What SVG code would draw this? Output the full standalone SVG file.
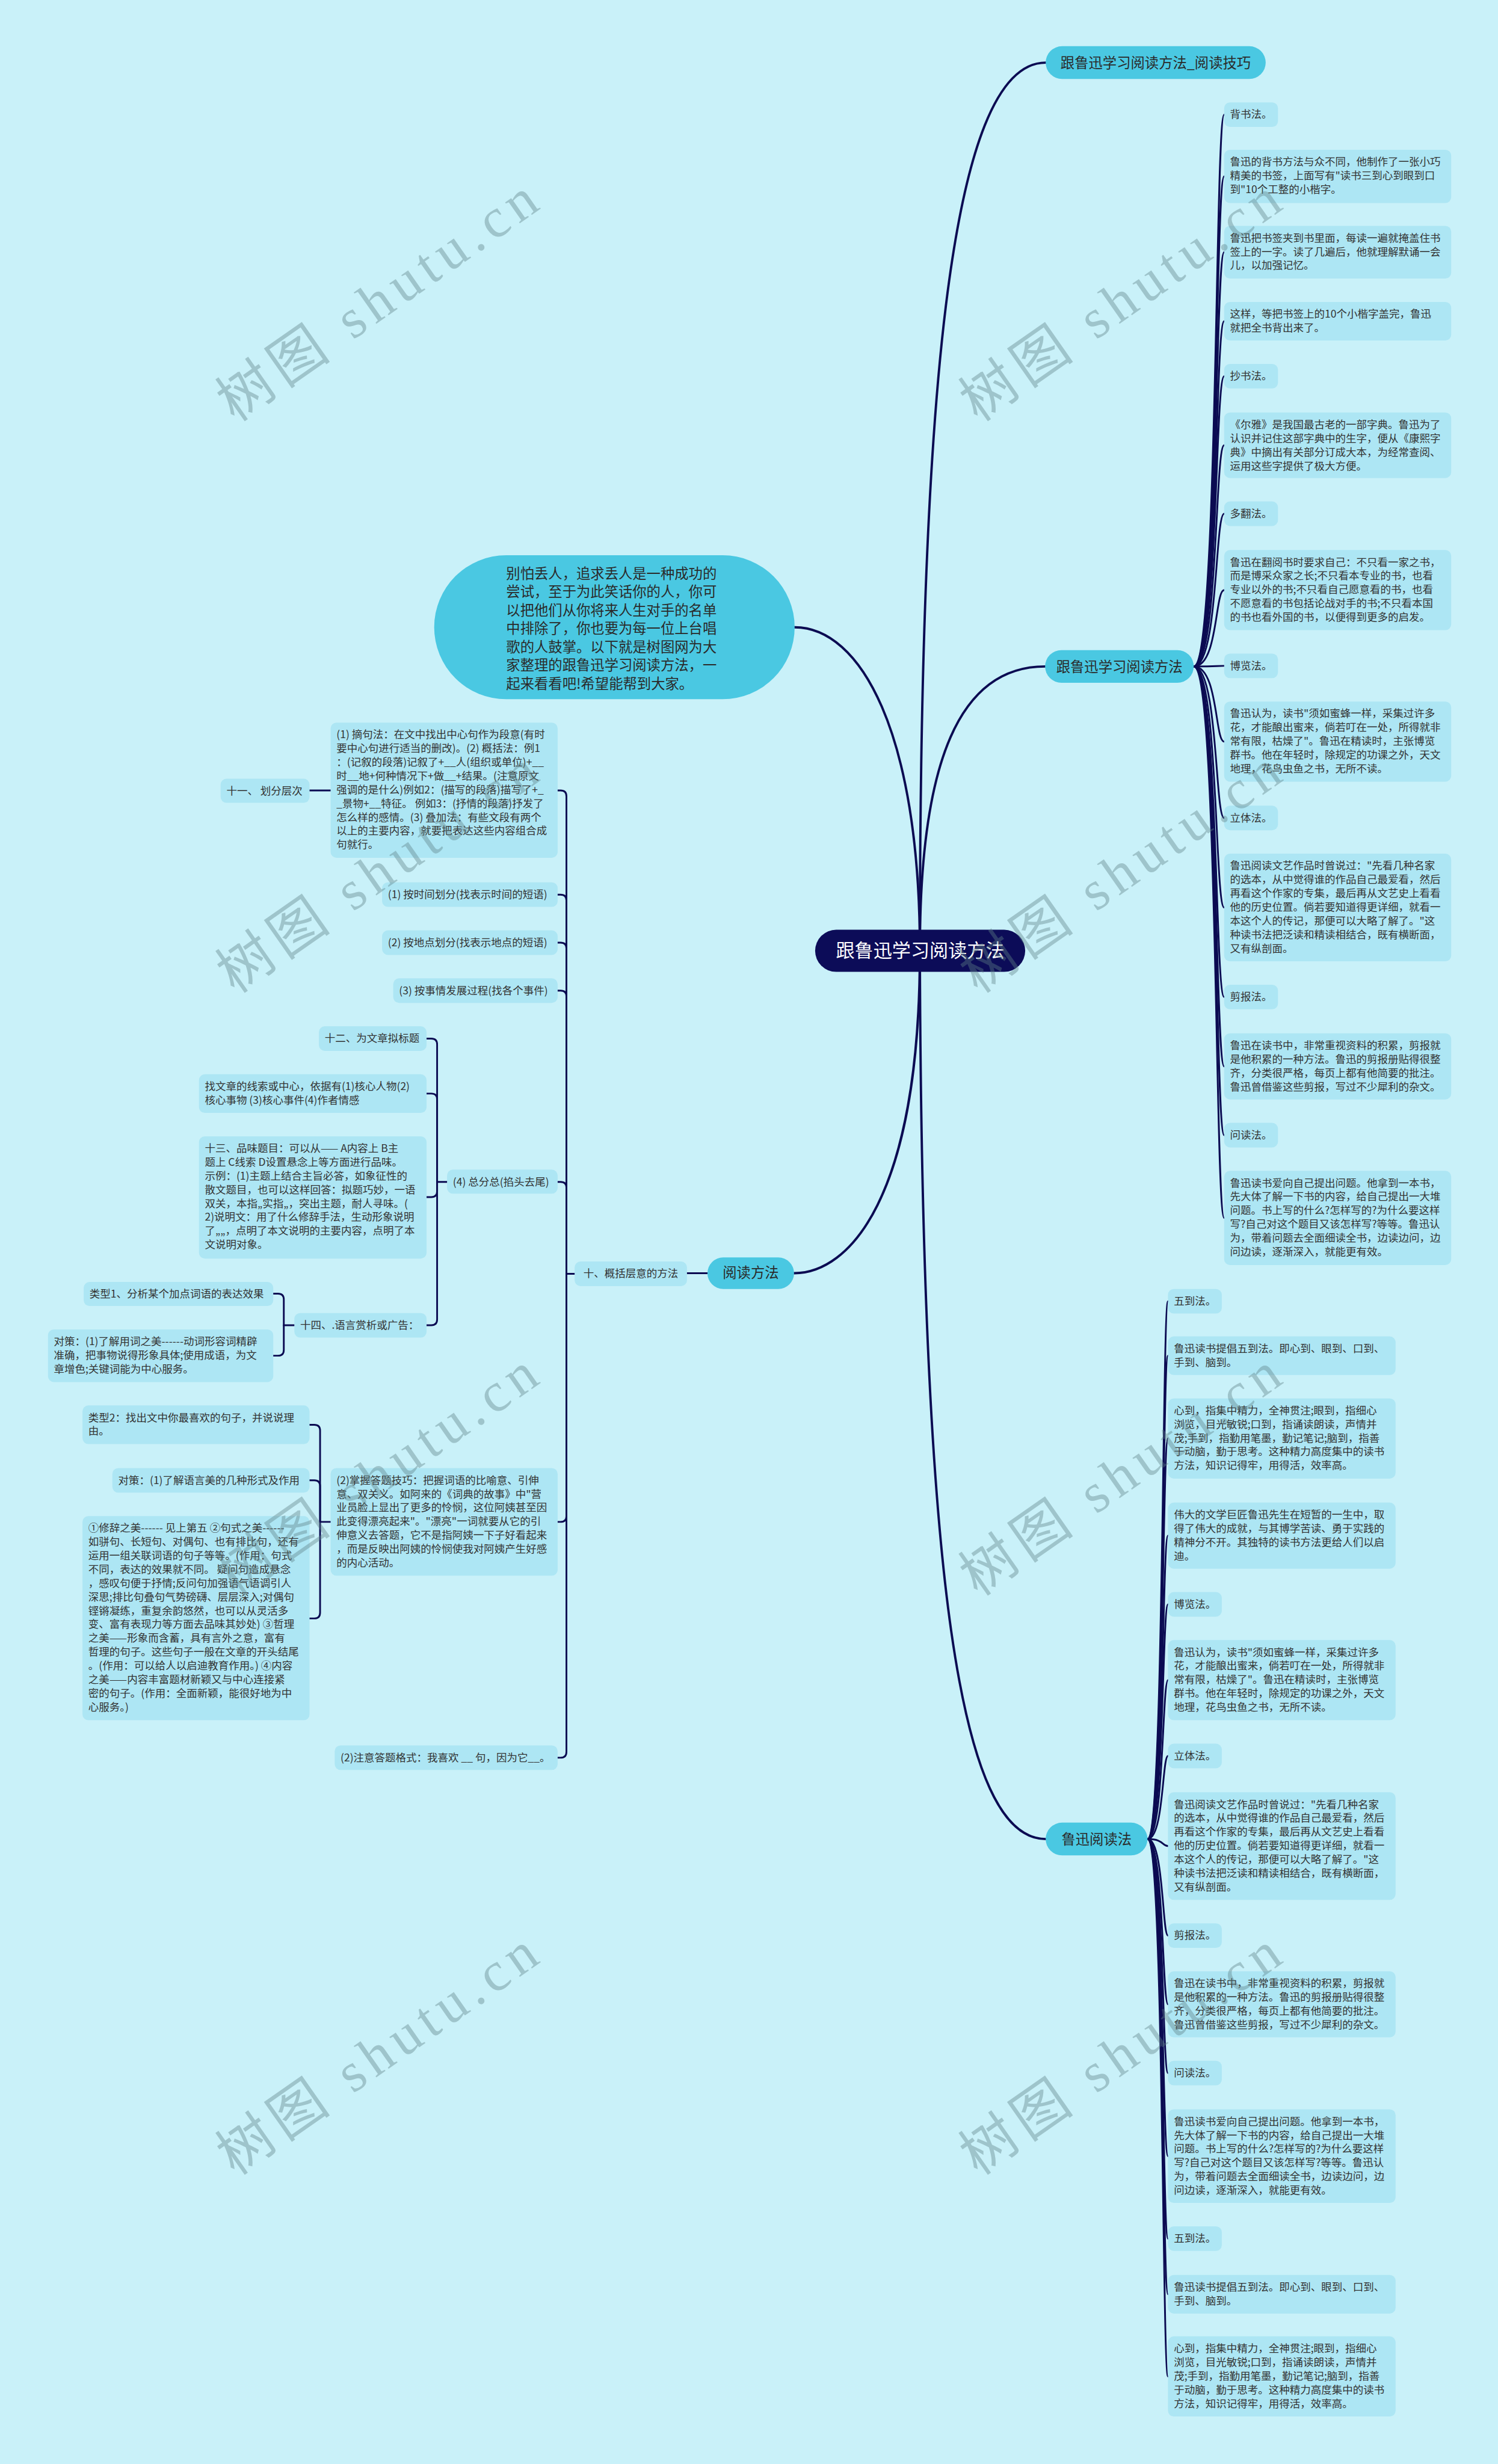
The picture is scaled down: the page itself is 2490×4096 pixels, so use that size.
<svg xmlns="http://www.w3.org/2000/svg" width="2490" height="4096" viewBox="0 0 2490 4096">
<style>
.box{fill:#ade6f4}
.l1{fill:#4ac8e2}
.t{font-family:"Noto Sans CJK SC","Noto Sans",sans-serif;font-size:18px;fill:#333333}
.lt{font-family:"Noto Sans CJK SC","Noto Sans",sans-serif;font-size:24px;fill:#2a2a2a}
.rt{font-family:"Noto Sans CJK SC","Noto Sans",sans-serif;font-size:32px;fill:#ffffff}
.ln{fill:none;stroke:#0b0b52;stroke-width:3;stroke-linecap:round}
.lm{fill:none;stroke:#0b0b52;stroke-width:4;stroke-linecap:round}
.wm{font-family:"Liberation Serif","Noto Sans CJK SC",serif;font-size:95px;fill:#5f8287;opacity:0.4}
</style>
<rect x="0" y="0" width="2490" height="4096" fill="#c9f1f9"/>
<g transform="scale(0.97266)">
<g id="connectors">
<path class="lm" d="M1572 1625 C1572 700 1620 107 1787 107"/>
<path class="lm" d="M1572 1625 C1572 1300 1640 1139 1786 1139"/>
<path class="lm" d="M1572 1625 C1572 1250 1470 1072 1358 1072"/>
<path class="lm" d="M1572 1625 C1572 2050 1450 2176 1357 2176"/>
<path class="lm" d="M1572 1625 C1575 2700 1640 3143 1787 3143"/>
<path class="ln" d="M2040 1139 C2082 1139 2076 196 2092 196"/>
<path class="ln" d="M2040 1139 C2082 1139 2076 301.5 2092 301.5"/>
<path class="ln" d="M2040 1139 C2082 1139 2076 431 2092 431"/>
<path class="ln" d="M2040 1139 C2082 1139 2076 549 2092 549"/>
<path class="ln" d="M2040 1139 C2082 1139 2076 643 2092 643"/>
<path class="ln" d="M2040 1139 C2082 1139 2076 761 2092 761"/>
<path class="ln" d="M2040 1139 C2082 1139 2076 878 2092 878"/>
<path class="ln" d="M2040 1139 C2082 1139 2076 1008.5 2092 1008.5"/>
<path class="ln" d="M2040 1139 C2082 1139 2076 1138 2092 1138"/>
<path class="ln" d="M2040 1139 C2082 1139 2076 1267.5 2092 1267.5"/>
<path class="ln" d="M2040 1139 C2082 1139 2076 1398 2092 1398"/>
<path class="ln" d="M2040 1139 C2082 1139 2076 1551 2092 1551"/>
<path class="ln" d="M2040 1139 C2082 1139 2076 1704 2092 1704"/>
<path class="ln" d="M2040 1139 C2082 1139 2076 1822.5 2092 1822.5"/>
<path class="ln" d="M2040 1139 C2082 1139 2076 1940 2092 1940"/>
<path class="ln" d="M2040 1139 C2082 1139 2076 2081.5 2092 2081.5"/>
<path class="ln" d="M1961 3143 C1989 3143 1986 2224 1996 2224"/>
<path class="ln" d="M1961 3143 C1989 3143 1986 2317 1996 2317"/>
<path class="ln" d="M1961 3143 C1989 3143 1986 2458.5 1996 2458.5"/>
<path class="ln" d="M1961 3143 C1989 3143 1986 2624.5 1996 2624.5"/>
<path class="ln" d="M1961 3143 C1989 3143 1986 2742 1996 2742"/>
<path class="ln" d="M1961 3143 C1989 3143 1986 2871.5 1996 2871.5"/>
<path class="ln" d="M1961 3143 C1989 3143 1986 3001 1996 3001"/>
<path class="ln" d="M1961 3143 C1989 3143 1986 3155 1996 3155"/>
<path class="ln" d="M1961 3143 C1989 3143 1986 3308 1996 3308"/>
<path class="ln" d="M1961 3143 C1989 3143 1986 3425.5 1996 3425.5"/>
<path class="ln" d="M1961 3143 C1989 3143 1986 3543 1996 3543"/>
<path class="ln" d="M1961 3143 C1989 3143 1986 3685 1996 3685"/>
<path class="ln" d="M1961 3143 C1989 3143 1986 3826 1996 3826"/>
<path class="ln" d="M1961 3143 C1989 3143 1986 3921 1996 3921"/>
<path class="ln" d="M1961 3143 C1989 3143 1986 4061.5 1996 4061.5"/>
<path class="ln" d="M1209 2176 H1174"/>
<path class="ln" d="M982 2177 H968 V1361 Q968 1351 958 1351 H953"/>
<path class="ln" d="M968 2177 V1539 Q968 1529 958 1529 H953"/>
<path class="ln" d="M968 2177 V1621 Q968 1611 958 1611 H953"/>
<path class="ln" d="M968 2177 V1703 Q968 1693 958 1693 H953"/>
<path class="ln" d="M968 2177 V2030 Q968 2020 958 2020 H953"/>
<path class="ln" d="M968 2177 V2591 Q968 2601 958 2601 H953"/>
<path class="ln" d="M968 2177 V2994 Q968 3004 958 3004 H953"/>
<path class="ln" d="M565 1351 H529"/>
<path class="ln" d="M764 2020 H747 V1785 Q747 1775 737 1775 H729"/>
<path class="ln" d="M747 2020 V1879 Q747 1869 737 1869 H729"/>
<path class="ln" d="M747 2020 V2036 Q747 2046 737 2046 H729"/>
<path class="ln" d="M747 2020 V2255 Q747 2265 737 2265 H729"/>
<path class="ln" d="M503 2265 H485 V2221 Q485 2211 475 2211 H467"/>
<path class="ln" d="M485 2265 V2307 Q485 2317 475 2317 H467"/>
<path class="ln" d="M565 2601 H547 V2445 Q547 2435 537 2435 H529"/>
<path class="ln" d="M547 2601 V2540 Q547 2530 537 2530 H529"/>
<path class="ln" d="M547 2601 V2756 Q547 2766 537 2766 H529"/>
</g>

<g id="root">
<rect x="1393" y="1589" width="359" height="72" rx="36" fill="#0c0c58"/>
<text class="rt" x="1572.5" y="1636" text-anchor="middle">跟鲁迅学习阅读方法</text>
</g>
<g id="n-top">
<rect class="l1" x="1787" y="79" width="376" height="56" rx="28"/>
<text class="lt" x="1975" y="116" text-anchor="middle">跟鲁迅学习阅读方法_阅读技巧</text>
</g>
<g id="n-p1">
<rect class="l1" x="1786" y="1111" width="254" height="56" rx="28"/>
<text class="lt" x="1913" y="1148" text-anchor="middle">跟鲁迅学习阅读方法</text>
</g>
<g id="n-p2">
<rect class="l1" x="1787" y="3115" width="174" height="56" rx="28"/>
<text class="lt" x="1874" y="3152" text-anchor="middle">鲁迅阅读法</text>
</g>
<g id="n-left">
<rect class="l1" x="1209" y="2149" width="148" height="54" rx="27"/>
<text class="lt" x="1283" y="2184" text-anchor="middle">阅读方法</text>
</g>
<g id="n-intro">
<rect class="l1" x="742" y="949" width="616" height="246" rx="123"/>
<text class="lt"><tspan x="865" y="989">别怕丢人，追求丢人是一种成功的</tspan><tspan x="865" y="1020.3">尝试，至于为此笑话你的人，你可</tspan><tspan x="865" y="1051.6">以把他们从你将来人生对手的名单</tspan><tspan x="865" y="1082.9">中排除了，你也要为每一位上台唱</tspan><tspan x="865" y="1114.2">歌的人鼓掌。以下就是树图网为大</tspan><tspan x="865" y="1145.5">家整理的跟鲁迅学习阅读方法，一</tspan><tspan x="865" y="1176.8">起来看看吧!希望能帮到大家。</tspan></text>
</g>

<!-- right top children -->
<g id="r1"><rect class="box" x="2092" y="175" width="92" height="42" rx="10"/><text class="t" x="2102" y="202">背书法。</text></g>
<g id="r2"><rect class="box" x="2092" y="256" width="388" height="91" rx="10"/><text class="t"><tspan x="2102" y="283">鲁迅的背书方法与众不同，他制作了一张小巧</tspan><tspan x="2102" y="306.5">精美的书签，上面写有"读书三到心到眼到口</tspan><tspan x="2102" y="330">到"10个工整的小楷字。</tspan></text></g>
<g id="r3"><rect class="box" x="2092" y="386" width="388" height="90" rx="10"/><text class="t"><tspan x="2102" y="413">鲁迅把书签夹到书里面，每读一遍就掩盖住书</tspan><tspan x="2102" y="436.5">签上的一字。读了几遍后，他就理解默诵一会</tspan><tspan x="2102" y="460">儿，以加强记忆。</tspan></text></g>
<g id="r4"><rect class="box" x="2092" y="516" width="388" height="66" rx="10"/><text class="t"><tspan x="2102" y="543">这样，等把书签上的10个小楷字盖完，鲁迅</tspan><tspan x="2102" y="566.5">就把全书背出来了。</tspan></text></g>
<g id="r5"><rect class="box" x="2092" y="622" width="92" height="42" rx="10"/><text class="t" x="2102" y="649">抄书法。</text></g>
<g id="r6"><rect class="box" x="2092" y="705" width="388" height="112" rx="10"/><text class="t"><tspan x="2102" y="732">《尔雅》是我国最古老的一部字典。鲁迅为了</tspan><tspan x="2102" y="755.5">认识并记住这部字典中的生字，便从《康熙字</tspan><tspan x="2102" y="779">典》中摘出有关部分订成大本，为经常查阅、</tspan><tspan x="2102" y="802.5">运用这些字提供了极大方便。</tspan></text></g>
<g id="r7"><rect class="box" x="2092" y="857" width="92" height="42" rx="10"/><text class="t" x="2102" y="884">多翻法。</text></g>
<g id="r8"><rect class="box" x="2092" y="940" width="388" height="137" rx="10"/><text class="t"><tspan x="2102" y="967">鲁迅在翻阅书时要求自己：不只看一家之书，</tspan><tspan x="2102" y="990.5">而是博采众家之长;不只看本专业的书，也看</tspan><tspan x="2102" y="1014">专业以外的书;不只看自己愿意看的书，也看</tspan><tspan x="2102" y="1037.5">不愿意看的书包括论战对手的书;不只看本国</tspan><tspan x="2102" y="1061">的书也看外国的书，以便得到更多的启发。</tspan></text></g>
<g id="r9"><rect class="box" x="2092" y="1117" width="92" height="42" rx="10"/><text class="t" x="2102" y="1144">博览法。</text></g>
<g id="r10"><rect class="box" x="2092" y="1199" width="388" height="137" rx="10"/><text class="t"><tspan x="2102" y="1226">鲁迅认为，读书"须如蜜蜂一样，采集过许多</tspan><tspan x="2102" y="1249.5">花，才能酿出蜜来，倘若叮在一处，所得就非</tspan><tspan x="2102" y="1273">常有限，枯燥了"。鲁迅在精读时，主张博览</tspan><tspan x="2102" y="1296.5">群书。他在年轻时，除规定的功课之外，天文</tspan><tspan x="2102" y="1320">地理，花鸟虫鱼之书，无所不读。</tspan></text></g>
<g id="r11"><rect class="box" x="2092" y="1377" width="92" height="42" rx="10"/><text class="t" x="2102" y="1404">立体法。</text></g>
<g id="r12"><rect class="box" x="2092" y="1459" width="388" height="184" rx="10"/><text class="t"><tspan x="2102" y="1486">鲁迅阅读文艺作品时曾说过："先看几种名家</tspan><tspan x="2102" y="1509.5">的选本，从中觉得谁的作品自己最爱看，然后</tspan><tspan x="2102" y="1533">再看这个作家的专集，最后再从文艺史上看看</tspan><tspan x="2102" y="1556.5">他的历史位置。倘若要知道得更详细，就看一</tspan><tspan x="2102" y="1580">本这个人的传记，那便可以大略了解了。"这</tspan><tspan x="2102" y="1603.5">种读书法把泛读和精读相结合，既有横断面，</tspan><tspan x="2102" y="1627">又有纵剖面。</tspan></text></g>
<g id="r13"><rect class="box" x="2092" y="1683" width="92" height="42" rx="10"/><text class="t" x="2102" y="1710">剪报法。</text></g>
<g id="r14"><rect class="box" x="2092" y="1766" width="388" height="113" rx="10"/><text class="t"><tspan x="2102" y="1793">鲁迅在读书中，非常重视资料的积累，剪报就</tspan><tspan x="2102" y="1816.5">是他积累的一种方法。鲁迅的剪报册贴得很整</tspan><tspan x="2102" y="1840">齐，分类很严格，每页上都有他简要的批注。</tspan><tspan x="2102" y="1863.5">鲁迅曾借鉴这些剪报，写过不少犀利的杂文。</tspan></text></g>
<g id="r15"><rect class="box" x="2092" y="1919" width="92" height="42" rx="10"/><text class="t" x="2102" y="1946">问读法。</text></g>
<g id="r16"><rect class="box" x="2092" y="2001" width="388" height="161" rx="10"/><text class="t"><tspan x="2102" y="2028">鲁迅读书爱向自己提出问题。他拿到一本书，</tspan><tspan x="2102" y="2051.5">先大体了解一下书的内容，给自己提出一大堆</tspan><tspan x="2102" y="2075">问题。书上写的什么?怎样写的?为什么要这样</tspan><tspan x="2102" y="2098.5">写?自己对这个题目又该怎样写?等等。鲁迅认</tspan><tspan x="2102" y="2122">为，带着问题去全面细读全书，边读边问，边</tspan><tspan x="2102" y="2145.5">问边读，逐渐深入，就能更有效。</tspan></text></g>

<!-- bottom right children -->
<g id="b1"><rect class="box" x="1996" y="2203" width="92" height="42" rx="10"/><text class="t" x="2006" y="2230">五到法。</text></g>
<g id="b2"><rect class="box" x="1996" y="2284" width="389" height="66" rx="10"/><text class="t"><tspan x="2006" y="2311">鲁迅读书提倡五到法。即心到、眼到、口到、</tspan><tspan x="2006" y="2334.5">手到、脑到。</tspan></text></g>
<g id="b3"><rect class="box" x="1996" y="2390" width="389" height="137" rx="10"/><text class="t"><tspan x="2006" y="2417">心到，指集中精力，全神贯注;眼到，指细心</tspan><tspan x="2006" y="2440.5">浏览，目光敏锐;口到，指诵读朗读，声情并</tspan><tspan x="2006" y="2464">茂;手到，指勤用笔墨，勤记笔记;脑到，指善</tspan><tspan x="2006" y="2487.5">于动脑，勤于思考。这种精力高度集中的读书</tspan><tspan x="2006" y="2511">方法，知识记得牢，用得活，效率高。</tspan></text></g>
<g id="b4"><rect class="box" x="1996" y="2568" width="389" height="113" rx="10"/><text class="t"><tspan x="2006" y="2595">伟大的文学巨匠鲁迅先生在短暂的一生中，取</tspan><tspan x="2006" y="2618.5">得了伟大的成就，与其博学苦读、勇于实践的</tspan><tspan x="2006" y="2642">精神分不开。其独特的读书方法更给人们以启</tspan><tspan x="2006" y="2665.5">迪。</tspan></text></g>
<g id="b5"><rect class="box" x="1996" y="2721" width="92" height="42" rx="10"/><text class="t" x="2006" y="2748">博览法。</text></g>
<g id="b6"><rect class="box" x="1996" y="2803" width="389" height="137" rx="10"/><text class="t"><tspan x="2006" y="2830">鲁迅认为，读书"须如蜜蜂一样，采集过许多</tspan><tspan x="2006" y="2853.5">花，才能酿出蜜来，倘若叮在一处，所得就非</tspan><tspan x="2006" y="2877">常有限，枯燥了"。鲁迅在精读时，主张博览</tspan><tspan x="2006" y="2900.5">群书。他在年轻时，除规定的功课之外，天文</tspan><tspan x="2006" y="2924">地理，花鸟虫鱼之书，无所不读。</tspan></text></g>
<g id="b7"><rect class="box" x="1996" y="2980" width="92" height="42" rx="10"/><text class="t" x="2006" y="3007">立体法。</text></g>
<g id="b8"><rect class="box" x="1996" y="3063" width="389" height="184" rx="10"/><text class="t"><tspan x="2006" y="3090">鲁迅阅读文艺作品时曾说过："先看几种名家</tspan><tspan x="2006" y="3113.5">的选本，从中觉得谁的作品自己最爱看，然后</tspan><tspan x="2006" y="3137">再看这个作家的专集，最后再从文艺史上看看</tspan><tspan x="2006" y="3160.5">他的历史位置。倘若要知道得更详细，就看一</tspan><tspan x="2006" y="3184">本这个人的传记，那便可以大略了解了。"这</tspan><tspan x="2006" y="3207.5">种读书法把泛读和精读相结合，既有横断面，</tspan><tspan x="2006" y="3231">又有纵剖面。</tspan></text></g>
<g id="b9"><rect class="box" x="1996" y="3287" width="92" height="42" rx="10"/><text class="t" x="2006" y="3314">剪报法。</text></g>
<g id="b10"><rect class="box" x="1996" y="3369" width="389" height="113" rx="10"/><text class="t"><tspan x="2006" y="3396">鲁迅在读书中，非常重视资料的积累，剪报就</tspan><tspan x="2006" y="3419.5">是他积累的一种方法。鲁迅的剪报册贴得很整</tspan><tspan x="2006" y="3443">齐，分类很严格，每页上都有他简要的批注。</tspan><tspan x="2006" y="3466.5">鲁迅曾借鉴这些剪报，写过不少犀利的杂文。</tspan></text></g>
<g id="b11"><rect class="box" x="1996" y="3522" width="92" height="42" rx="10"/><text class="t" x="2006" y="3549">问读法。</text></g>
<g id="b12"><rect class="box" x="1996" y="3605" width="389" height="160" rx="10"/><text class="t"><tspan x="2006" y="3632">鲁迅读书爱向自己提出问题。他拿到一本书，</tspan><tspan x="2006" y="3655.5">先大体了解一下书的内容，给自己提出一大堆</tspan><tspan x="2006" y="3679">问题。书上写的什么?怎样写的?为什么要这样</tspan><tspan x="2006" y="3702.5">写?自己对这个题目又该怎样写?等等。鲁迅认</tspan><tspan x="2006" y="3726">为，带着问题去全面细读全书，边读边问，边</tspan><tspan x="2006" y="3749.5">问边读，逐渐深入，就能更有效。</tspan></text></g>
<g id="b13"><rect class="box" x="1996" y="3805" width="92" height="42" rx="10"/><text class="t" x="2006" y="3832">五到法。</text></g>
<g id="b14"><rect class="box" x="1996" y="3888" width="389" height="66" rx="10"/><text class="t"><tspan x="2006" y="3915">鲁迅读书提倡五到法。即心到、眼到、口到、</tspan><tspan x="2006" y="3938.5">手到、脑到。</tspan></text></g>
<g id="b15"><rect class="box" x="1996" y="3993" width="389" height="137" rx="10"/><text class="t"><tspan x="2006" y="4020">心到，指集中精力，全神贯注;眼到，指细心</tspan><tspan x="2006" y="4043.5">浏览，目光敏锐;口到，指诵读朗读，声情并</tspan><tspan x="2006" y="4067">茂;手到，指勤用笔墨，勤记笔记;脑到，指善</tspan><tspan x="2006" y="4090.5">于动脑，勤于思考。这种精力高度集中的读书</tspan><tspan x="2006" y="4114">方法，知识记得牢，用得活，效率高。</tspan></text></g>

<!-- left side -->
<g id="l-ten"><rect class="box" x="982" y="2156" width="192" height="42" rx="10"/><text class="t" x="1078" y="2183" text-anchor="middle">十、概括层意的方法</text></g>
<g id="l-a"><rect class="box" x="565" y="1235" width="388" height="231" rx="10"/><text class="t"><tspan x="575" y="1262">(1) 摘句法：在文中找出中心句作为段意(有时</tspan><tspan x="575" y="1285.5">要中心句进行适当的删改)。(2) 概括法：例1</tspan><tspan x="575" y="1309">：(记叙的段落)记叙了+__人(组织或单位)+__</tspan><tspan x="575" y="1332.5">时__地+何种情况下+做__+结果。(注意原文</tspan><tspan x="575" y="1356">强调的是什么)例如2：(描写的段落)描写了+_</tspan><tspan x="575" y="1379.5">_景物+__特征。 例如3：(抒情的段落)抒发了</tspan><tspan x="575" y="1403">怎么样的感情。(3) 叠加法：有些文段有两个</tspan><tspan x="575" y="1426.5">以上的主要内容，就要把表达这些内容组合成</tspan><tspan x="575" y="1450">句就行。</tspan></text></g>
<g id="l-eleven"><rect class="box" x="377" y="1331" width="152" height="41" rx="10"/><text class="t" x="387" y="1358">十一、 划分层次</text></g>
<g id="l-b"><rect class="box" x="653" y="1508" width="300" height="42" rx="10"/><text class="t" x="663" y="1535">(1) 按时间划分(找表示时间的短语)</text></g>
<g id="l-c"><rect class="box" x="653" y="1590" width="300" height="42" rx="10"/><text class="t" x="663" y="1617">(2) 按地点划分(找表示地点的短语)</text></g>
<g id="l-d"><rect class="box" x="672" y="1672" width="281" height="42" rx="10"/><text class="t" x="682" y="1699">(3) 按事情发展过程(找各个事件)</text></g>
<g id="l-e"><rect class="box" x="764" y="1999" width="189" height="41" rx="10"/><text class="t" x="774" y="2026">(4) 总分总(掐头去尾)</text></g>
<g id="l-twelve"><rect class="box" x="545" y="1754" width="184" height="42" rx="10"/><text class="t" x="555" y="1781">十二、为文章拟标题</text></g>
<g id="l-clue"><rect class="box" x="340" y="1836" width="389" height="66" rx="10"/><text class="t"><tspan x="350" y="1863">找文章的线索或中心，依据有(1)核心人物(2)</tspan><tspan x="350" y="1886.5">核心事物 (3)核心事件(4)作者情感</tspan></text></g>
<g id="l-thirteen"><rect class="box" x="340" y="1942" width="389" height="209" rx="10"/><text class="t"><tspan x="350" y="1969">十三、品味题目：可以从—— A内容上 B主</tspan><tspan x="350" y="1992.5">题上 C线索 D设置悬念上等方面进行品味。</tspan><tspan x="350" y="2016">示例：(1)主题上结合主旨必答，如象征性的</tspan><tspan x="350" y="2039.5">散文题目，也可以这样回答：拟题巧妙，一语</tspan><tspan x="350" y="2063">双关，本指„实指„，突出主题，耐人寻味。(</tspan><tspan x="350" y="2086.5">2)说明文：用了什么修辞手法，生动形象说明</tspan><tspan x="350" y="2110">了„„，点明了本文说明的主要内容，点明了本</tspan><tspan x="350" y="2133.5">文说明对象。</tspan></text></g>
<g id="l-fourteen"><rect class="box" x="503" y="2244" width="226" height="42" rx="10"/><text class="t" x="513" y="2271">十四、.语言赏析或广告：</text></g>
<g id="l-type1"><rect class="box" x="143" y="2191" width="324" height="41" rx="10"/><text class="t" x="153" y="2218">类型1、分析某个加点词语的表达效果</text></g>
<g id="l-ce1"><rect class="box" x="82" y="2272" width="385" height="90" rx="10"/><text class="t"><tspan x="92" y="2299">对策：(1)了解用词之美------动词形容词精辟</tspan><tspan x="92" y="2322.5">准确，把事物说得形象具体;使用成语，为文</tspan><tspan x="92" y="2346">章增色;关键词能为中心服务。</tspan></text></g>
<g id="l-f"><rect class="box" x="565" y="2509" width="388" height="184" rx="10"/><text class="t"><tspan x="575" y="2536">(2)掌握答题技巧：把握词语的比喻意、引伸</tspan><tspan x="575" y="2559.5">意、双关义。如阿来的《词典的故事》中"营</tspan><tspan x="575" y="2583">业员脸上显出了更多的怜悯，这位阿姨甚至因</tspan><tspan x="575" y="2606.5">此变得漂亮起来"。"漂亮"一词就要从它的引</tspan><tspan x="575" y="2630">伸意义去答题，它不是指阿姨一下子好看起来</tspan><tspan x="575" y="2653.5">，而是反映出阿姨的怜悯使我对阿姨产生好感</tspan><tspan x="575" y="2677">的内心活动。</tspan></text></g>
<g id="l-type2"><rect class="box" x="141" y="2402" width="388" height="66" rx="10"/><text class="t"><tspan x="151" y="2429">类型2：找出文中你最喜欢的句子，并说说理</tspan><tspan x="151" y="2452.5">由。</tspan></text></g>
<g id="l-ce2"><rect class="box" x="192" y="2509" width="337" height="42" rx="10"/><text class="t" x="202" y="2536">对策：(1)了解语言美的几种形式及作用</text></g>
<g id="l-rhet"><rect class="box" x="141" y="2591" width="388" height="349" rx="10"/><text class="t"><tspan x="151" y="2618">①修辞之美------ 见上第五 ②句式之美------</tspan><tspan x="151" y="2641.5">如骈句、长短句、对偶句、也有排比句，还有</tspan><tspan x="151" y="2665">运用一组关联词语的句子等等。(作用：句式</tspan><tspan x="151" y="2688.5">不同，表达的效果就不同。 疑问句造成悬念</tspan><tspan x="151" y="2712">，感叹句便于抒情;反问句加强语气语调引人</tspan><tspan x="151" y="2735.5">深思;排比句叠句气势磅礴、层层深入;对偶句</tspan><tspan x="151" y="2759">铿锵凝练，重复余韵悠然，也可以从灵活多</tspan><tspan x="151" y="2782.5">变、富有表现力等方面去品味其妙处) ③哲理</tspan><tspan x="151" y="2806">之美——形象而含蓄，具有言外之意，富有</tspan><tspan x="151" y="2829.5">哲理的句子。这些句子一般在文章的开头结尾</tspan><tspan x="151" y="2853">。(作用：可以给人以启迪教育作用。) ④内容</tspan><tspan x="151" y="2876.5">之美——内容丰富题材新颖又与中心连接紧</tspan><tspan x="151" y="2900">密的句子。(作用：全面新颖，能很好地为中</tspan><tspan x="151" y="2923.5">心服务。)</tspan></text></g>
<g id="l-g"><rect class="box" x="572" y="2983" width="381" height="42" rx="10"/><text class="t" x="582" y="3010">(2)注意答题格式：我喜欢 __ 句，因为它__。</text></g>

<g id="watermarks">
<text class="wm" transform="translate(645,513) rotate(-35)" text-anchor="middle" y="32" textLength="640" lengthAdjust="spacing">树图 shutu.cn</text>
<text class="wm" transform="translate(1915,513) rotate(-35)" text-anchor="middle" y="32" textLength="640" lengthAdjust="spacing">树图 shutu.cn</text>
<text class="wm" transform="translate(645,1490) rotate(-35)" text-anchor="middle" y="32" textLength="640" lengthAdjust="spacing">树图 shutu.cn</text>
<text class="wm" transform="translate(1915,1490) rotate(-35)" text-anchor="middle" y="32" textLength="640" lengthAdjust="spacing">树图 shutu.cn</text>
<text class="wm" transform="translate(645,2520) rotate(-35)" text-anchor="middle" y="32" textLength="640" lengthAdjust="spacing">树图 shutu.cn</text>
<text class="wm" transform="translate(1915,2520) rotate(-35)" text-anchor="middle" y="32" textLength="640" lengthAdjust="spacing">树图 shutu.cn</text>
<text class="wm" transform="translate(645,3510) rotate(-35)" text-anchor="middle" y="32" textLength="640" lengthAdjust="spacing">树图 shutu.cn</text>
<text class="wm" transform="translate(1915,3510) rotate(-35)" text-anchor="middle" y="32" textLength="640" lengthAdjust="spacing">树图 shutu.cn</text>
</g>
</g>
</svg>
